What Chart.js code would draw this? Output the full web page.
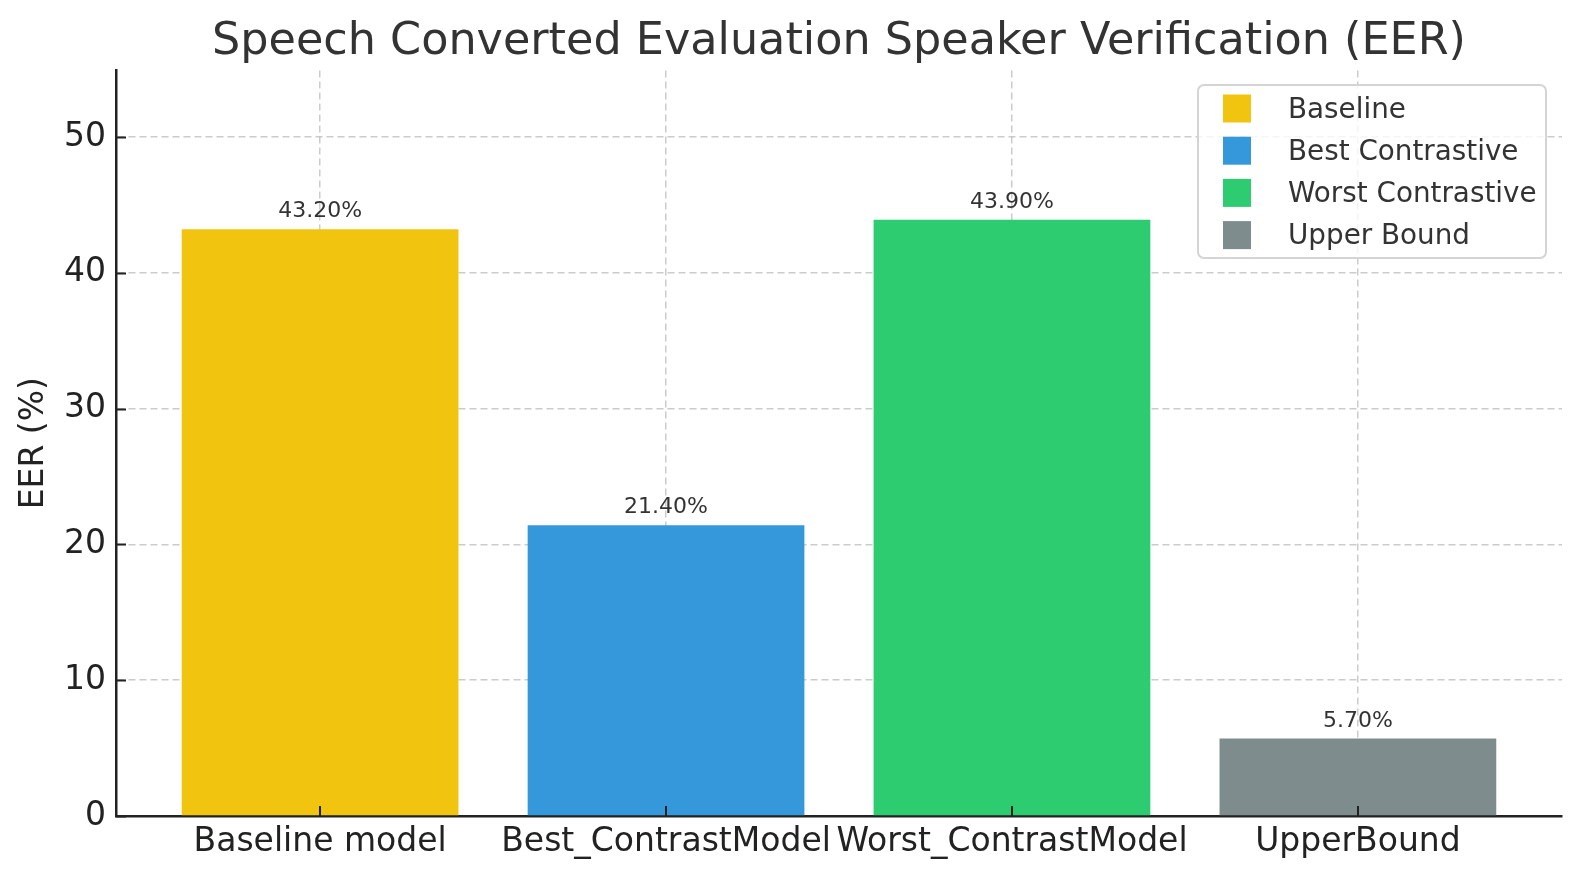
<!DOCTYPE html>
<html>
<head>
<meta charset="utf-8">
<title>Speech Converted Evaluation Speaker Verification (EER)</title>
<script src="https://cdn.jsdelivr.net/npm/chart.js@4.4.1/dist/chart.umd.min.js"></script>
<style>
    html, body { margin: 0; padding: 0; background: #fff; }
    #wrap { width: 1580px; height: 880px; }
</style>
</head>
<body>
<div id="wrap"><canvas id="eer-chart" width="1580" height="880"></canvas></div>
<script>
// chart data
var categories = [ 'Baseline model', 'Best_ContrastModel', 'Worst_ContrastModel', 'UpperBound' ];
var eerValues = [ 43.2, 21.4, 43.9, 5.7 ];
var legendLabels = [ 'Baseline', 'Best Contrastive', 'Worst Contrastive', 'Upper Bound' ];
var barColors = [ '#f1c40f', '#3498db', '#2ecc71', '#7f8c8d' ];
var yTicks = [ 0, 10, 20, 30, 40, 50 ];

var fontFamily = '"DejaVu Sans", sans-serif';
var axisColor = '#222222';

// inward tick marks, value labels and the legend box
var extrasPlugin = {
    id: 'extras',
    afterDraw: function( chart ) {
        var ctx = chart.ctx;
        var area = chart.chartArea;
        var xs = chart.scales.x;
        var ys = chart.scales.y;

        ctx.save();

        // ticks
        ctx.strokeStyle = axisColor;
        ctx.lineWidth = 2;
        ctx.beginPath();
        yTicks.forEach( function( v ) {
            var py = Math.round( ys.getPixelForValue( v ) ) + 0.5;
            ctx.moveTo( area.left, py );
            ctx.lineTo( area.left + 10, py );
        } );
        categories.forEach( function( c, i ) {
            var px = Math.round( xs.getPixelForValue( i ) );
            ctx.moveTo( px, area.bottom );
            ctx.lineTo( px, area.bottom - 10 );
        } );
        ctx.stroke();

        // value labels
        var meta = chart.getDatasetMeta( 0 );
        ctx.fillStyle = '#333333';
        ctx.font = '22px ' + fontFamily;
        ctx.textAlign = 'center';
        ctx.textBaseline = 'alphabetic';
        meta.data.forEach( function( bar, i ) {
            ctx.fillText( eerValues[i].toFixed( 2 ) + '%', bar.x, bar.y - 12 );
        } );

        // legend
        var lx = 1198, ly = 85, lw = 348, lh = 173;
        ctx.beginPath();
        ctx.roundRect( lx, ly, lw, lh, 6 );
        ctx.fillStyle = 'rgba(255,255,255,0.8)';
        ctx.fill();
        ctx.strokeStyle = '#d4d4d4';
        ctx.lineWidth = 2;
        ctx.stroke();

        ctx.font = '27.8px ' + fontFamily;
        ctx.textAlign = 'left';
        ctx.textBaseline = 'middle';
        legendLabels.forEach( function( label, i ) {
            var cy = 108.5 + i * 42.2;
            ctx.fillStyle = barColors[i];
            ctx.fillRect( 1223, cy - 14, 28, 28 );
            ctx.fillStyle = '#333333';
            ctx.fillText( label, 1288, cy + 2 );
        } );

        ctx.restore();
    }
};

var points = eerValues.map( function( v, i ) {
    return { x: i, y: v };
} );

var config = {
    type: 'bar',
    data: {
        datasets: [ {
            label: 'EER',
            data: points,
            backgroundColor: barColors,
            borderWidth: 0,
            categoryPercentage: 1,
            barPercentage: 0.8
        } ]
    },
    options: {
        responsive: false,
        animation: false,
        layout: {
            padding: { left: 0, right: 18, top: 0, bottom: 0 }
        },
        plugins: {
            legend: { display: false },
            tooltip: { enabled: false },
            title: {
                display: true,
                fullSize: false,
                text: 'Speech Converted Evaluation Speaker Verification (EER)',
                color: '#333333',
                font: { family: fontFamily, size: 44.5, weight: 'normal', lineHeight: 1.2 },
                padding: { top: 16, bottom: 1 }
            }
        },
        scales: {
            x: {
                type: 'linear',
                min: -0.59,
                max: 3.59,
                offset: false,
                z: 1,
                grid: {
                    display: true,
                    offset: false,
                    color: 'rgba(176,176,176,0.65)',
                    lineWidth: 1.5,
                    drawTicks: false
                },
                border: { display: true, color: axisColor, width: 2.5, dash: [ 7, 4 ] },
                afterBuildTicks: function( scale ) {
                    scale.ticks = categories.map( function( c, i ) {
                        return { value: i };
                    } );
                },
                afterFit: function( scale ) {
                    scale.height = 64;
                },
                ticks: {
                    autoSkip: false,
                    maxRotation: 0,
                    minRotation: 0,
                    padding: 7,
                    color: axisColor,
                    font: { family: fontFamily, size: 33 },
                    callback: function( value ) {
                        return categories[value];
                    }
                }
            },
            y: {
                type: 'linear',
                min: 0,
                max: 54.9,
                z: 1,
                grid: {
                    display: true,
                    color: 'rgba(176,176,176,0.65)',
                    lineWidth: 1.5,
                    drawTicks: false
                },
                border: { display: true, color: axisColor, width: 2.5, dash: [ 7, 4 ] },
                afterBuildTicks: function( scale ) {
                    scale.ticks = yTicks.map( function( v ) {
                        return { value: v };
                    } );
                },
                afterFit: function( scale ) {
                    scale.width = 116;
                },
                ticks: {
                    padding: 10,
                    color: axisColor,
                    font: { family: fontFamily, size: 33 }
                },
                title: {
                    display: true,
                    text: 'EER (%)',
                    color: axisColor,
                    font: { family: fontFamily, size: 33, lineHeight: 1.2 },
                    padding: { top: 15, bottom: 0 }
                }
            }
        }
    },
    plugins: [ extrasPlugin ]
};

var chart = new Chart( document.getElementById( 'eer-chart' ), config );
</script>
</body>
</html>
